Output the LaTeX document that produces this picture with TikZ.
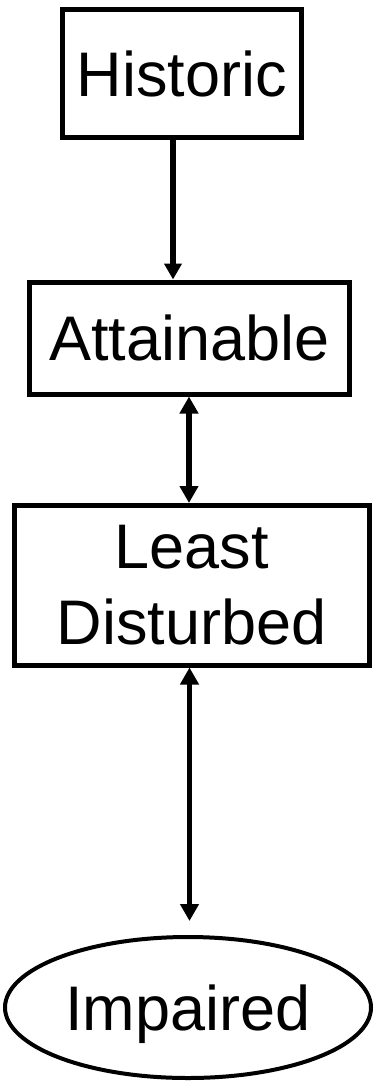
\documentclass[tikz,border=0pt]{standalone}
\usepackage{fontspec}
\setmainfont{Liberation Sans}
\usetikzlibrary{arrows.meta,shapes.geometric}
\begin{document}
\begin{tikzpicture}[x=1pt,y=-1pt,
  lbl/.style={font=\fontsize{63}{76}\selectfont, inner sep=0pt, align=center},
  box/.style={lbl, draw, line width=5pt, rectangle},
  oval/.style={lbl, draw, line width=4pt, ellipse, text depth=0pt},
  conn/.style={line width=5.5pt, -{Triangle[length=16pt,width=17pt]}},
  dconn/.style={line width=5.5pt, {Triangle[length=17pt,width=18pt]}-{Triangle[length=17pt,width=18pt]}}]
\useasboundingbox (0,0) rectangle (375,1083);
\node[box, minimum width=239.5pt, minimum height=127.5pt] (hist) at (181.75,73.75) {Historic};
\node[box, minimum width=320pt, minimum height=112pt] (att) at (189.5,338) {Attainable};
\node[box, minimum width=354.5pt, minimum height=159.5pt] (least) at (191.75,585.25) {Least\\Disturbed};
\node[oval, minimum width=366pt, minimum height=141pt] (imp) at (188,1007.5) {Impaired};
\draw[conn] (hist.south -| 173,0) -- (att.north -| 173,0);
\draw[dconn] (att.south -| 189,0) -- (least.north -| 189,0);
\draw[dconn] (least.south -| 189.5,0) -- (189.5,921);
\end{tikzpicture}
\end{document}
